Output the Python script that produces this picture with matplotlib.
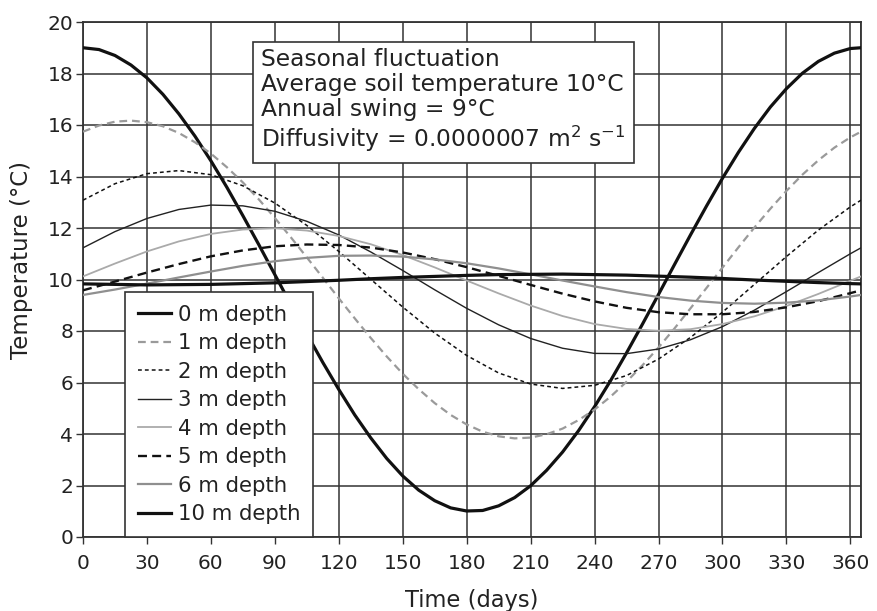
import matplotlib
matplotlib.use("Agg")
import matplotlib.pyplot as plt

plt.rcParams['font.family'] = ['DejaVu Sans']
plt.rcParams['mathtext.fontset'] = 'dejavusans'

days_fine = [0, 7.5, 15, 22.5, 30, 37.5, 45, 52.5, 60, 67.5, 75, 82.5, 90, 97.5, 105, 112.5,
             120, 127.5, 135, 142.5, 150, 157.5, 165, 172.5, 180, 187.5, 195, 202.5, 210,
             217.5, 225, 232.5, 240, 247.5, 255, 262.5, 270, 277.5, 285, 292.5, 300, 307.5,
             315, 322.5, 330, 337.5, 345, 352.5, 360, 365]
days = [0, 15, 30, 45, 60, 75, 90, 105, 120, 135, 150, 165, 180, 195, 210,
        225, 240, 255, 270, 285, 300, 315, 330, 345, 360, 365]

d0 = [19.0, 18.93, 18.70, 18.33, 17.83, 17.19, 16.43, 15.57, 14.61, 13.58, 12.48, 11.35,
      10.19, 9.03, 7.89, 6.78, 5.73, 4.74, 3.85, 3.05, 2.37, 1.82, 1.41, 1.13, 1.01, 1.03,
      1.21, 1.53, 1.99, 2.59, 3.30, 4.13, 5.06, 6.07, 7.15, 8.27, 9.42, 10.58, 11.73, 12.85,
      13.93, 14.94, 15.87, 16.70, 17.41, 18.01, 18.47, 18.79, 18.97, 19.0]
d1 = [15.74, 15.98, 16.13, 16.17, 16.11, 15.95, 15.69, 15.33, 14.89, 14.36, 13.77, 13.11,
      12.39, 11.64, 10.86, 10.07, 9.27, 8.49, 7.73, 7.01, 6.34, 5.74, 5.20, 4.74, 4.37, 4.09,
      3.91, 3.83, 3.86, 3.99, 4.21, 4.54, 4.95, 5.45, 6.03, 6.67, 7.36, 8.10, 8.88, 9.67,
      10.46, 11.25, 12.02, 12.75, 13.44, 14.07, 14.63, 15.12, 15.52, 15.74]
d2 = [13.08, 13.72, 14.11, 14.23, 14.07, 13.64, 12.97, 12.10, 11.09, 10.01, 8.93, 7.92, 7.05,
      6.37, 5.94, 5.77, 5.89, 6.27, 6.91, 7.75, 8.73, 9.81, 10.89, 11.92, 12.82, 13.08]
d3 = [11.23, 11.86, 12.37, 12.72, 12.89, 12.86, 12.65, 12.26, 11.73, 11.07, 10.35, 9.60, 8.88,
      8.24, 7.71, 7.33, 7.13, 7.12, 7.30, 7.66, 8.17, 8.81, 9.53, 10.27, 11.00, 11.23]
d4 = [10.12, 10.62, 11.09, 11.48, 11.77, 11.94, 11.99, 11.90, 11.69, 11.37, 10.95, 10.47, 9.96,
      9.46, 8.99, 8.58, 8.27, 8.08, 8.01, 8.07, 8.27, 8.57, 8.97, 9.44, 9.95, 10.12]
d5 = [9.58, 9.92, 10.27, 10.60, 10.90, 11.13, 11.29, 11.36, 11.34, 11.24, 11.05, 10.79, 10.48,
      10.14, 9.79, 9.45, 9.15, 8.90, 8.73, 8.65, 8.65, 8.74, 8.92, 9.16, 9.47, 9.58]
d6 = [9.40, 9.61, 9.84, 10.08, 10.31, 10.53, 10.71, 10.84, 10.92, 10.93, 10.89, 10.78, 10.63,
      10.43, 10.20, 9.96, 9.73, 9.51, 9.32, 9.18, 9.09, 9.06, 9.10, 9.19, 9.34, 9.40]
d10 = [9.83, 9.81, 9.79, 9.80, 9.81, 9.84, 9.87, 9.92, 9.97, 10.03, 10.08, 10.12, 10.16,
       10.19, 10.20, 10.21, 10.19, 10.17, 10.13, 10.09, 10.04, 9.98, 9.93, 9.88, 9.84, 9.83]

labels = ['0 m depth', '1 m depth', '2 m depth', '3 m depth',
          '4 m depth', '5 m depth', '6 m depth', '10 m depth']
xticks = [0, 30, 60, 90, 120, 150, 180, 210, 240, 270, 300, 330, 360]
yticks = [0, 2, 4, 6, 8, 10, 12, 14, 16, 18, 20]
info = ["Seasonal fluctuation", "Average soil temperature 10°C",
        "Annual swing = 9°C", r"Diffusivity = 0.0000007 m$^2$ s$^{-1}$"]

series = [(days_fine, d0), (days_fine, d1), (days, d2), (days, d3),
          (days, d4), (days, d5), (days, d6), (days, d10)]
styles = [
    dict(color='#111111', lw=2.3, ls='-'),
    dict(color='#9a9a9a', lw=1.6, ls=(0, (3.5, 2.2))),
    dict(color='#111111', lw=1.1, ls=(0, (2.5, 2.0))),
    dict(color='#222222', lw=1.0, ls='-'),
    dict(color='#aaaaaa', lw=1.3, ls='-'),
    dict(color='#111111', lw=1.7, ls=(0, (3.8, 2.2))),
    dict(color='#8f8f8f', lw=1.6, ls='-'),
    dict(color='#111111', lw=2.3, ls='-'),
]

fig = plt.figure(figsize=(8.77, 6.11), dpi=100)
ax = fig.add_axes([83/877, 1-537/611, 778/877, 515/611])

for (x, y), lab, st in zip(series, labels, styles):
    ax.plot(x, y, label=lab, zorder=3, **st)

ax.set_xlim(0, 365)
ax.set_ylim(0, 20)
ax.set_xticks(xticks)
ax.set_yticks(yticks)
ax.grid(True, color='#333333', lw=1.1)
ax.axvline(365, color='#333333', lw=1.1)
ax.set_axisbelow(True)
for sp in ax.spines.values():
    sp.set_color('#333333')
    sp.set_linewidth(1.3)
ax.tick_params(direction='out', length=5, width=1, color='#333333',
               labelsize=14.5, labelcolor='#222222')
ax.tick_params(axis='x', pad=7)
ax.tick_params(axis='y', pad=2)
ax.set_xlabel('Time (days)', fontsize=16.3, color='#222222', labelpad=12)
ax.set_ylabel('Temperature (°C)', fontsize=16.5, color='#222222')
ax.yaxis.set_label_coords(-0.064, 0.538)

ax.text(83.5, 18.99, "\n".join(info), fontsize=16.8, color='#222222',
        va='top', ha='left', linespacing=1.12, zorder=5,
        bbox=dict(boxstyle='square,pad=0.36', fc='white', ec='#333333', lw=1.2))

leg = ax.legend(loc='lower left', bbox_to_anchor=(0.054, 0.0), fontsize=15.3,
                frameon=True, fancybox=False, edgecolor='#333333', framealpha=1,
                handlelength=1.56, handletextpad=0.33, labelspacing=0.4,
                borderpad=0.6, borderaxespad=0.0)
leg.get_frame().set_linewidth(1.2)
for t in leg.get_texts():
    t.set_color('#222222')
leg.set_zorder(6)

fig.savefig('out.png', dpi=100)
